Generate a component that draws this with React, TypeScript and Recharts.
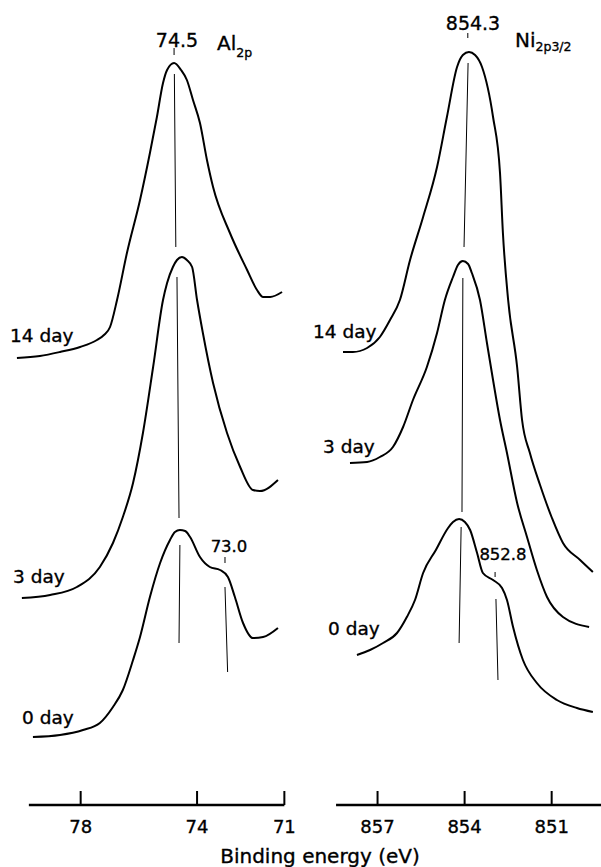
import { LineChart, Line, XAxis, YAxis, ReferenceLine } from 'recharts';

type Pt = [number, number];

// [binding energy (eV), intensity (a.u., spectra stacked with offsets)]
const al14: Pt[] = [
  [80.19, 89.4], [79.4, 89.8], [78.71, 90.6], [78.02, 91.6], [77.44, 93.0], [77.2, 94.0], [76.99, 95.6],
  [76.75, 101.0], [76.41, 110.4], [75.96, 121.0], [75.62, 130.4], [75.38, 137.6], [75.17, 144.4],
  [75.03, 147.0], [74.79, 148.4], [74.55, 147.0], [74.35, 145.0], [74.14, 141.0], [73.9, 136.4],
  [73.66, 129.0], [73.45, 123.6], [72.87, 114.4], [72.28, 107.0], [71.94, 103.0], [71.73, 101.6],
  [71.49, 101.6], [71.08, 102.6],
];
const al3: Pt[] = [
  [80.02, 41.4], [79.05, 42.0], [78.13, 43.6], [77.34, 47.6], [76.89, 52.4], [76.55, 57.6],
  [76.2, 64.4], [75.86, 74.4], [75.51, 87.6], [75.17, 101.0], [75.03, 104.4], [74.83, 107.6],
  [74.69, 109.0], [74.52, 109.6], [74.35, 109.0], [74.17, 107.6], [74.0, 101.0], [73.8, 94.4],
  [73.45, 84.4], [72.97, 74.4], [72.52, 67.6], [72.08, 63.0], [71.84, 62.8], [71.22, 65.0],
];
const al0: Pt[] = [
  [79.64, 13.6], [78.71, 14.0], [77.92, 15.0], [77.34, 16.4], [76.89, 19.6], [76.55, 23.0],
  [76.2, 29.0], [75.96, 33.6], [75.62, 41.6], [75.27, 48.4], [74.93, 53.0], [74.76, 54.6],
  [74.59, 55.0], [74.41, 54.8], [74.24, 53.6], [73.9, 49.6], [73.56, 47.6], [73.21, 47.0],
  [72.94, 45.6], [72.7, 41.6], [72.42, 36.4], [72.08, 33.4], [71.73, 33.6], [71.22, 35.4],
];

const ni14: Pt[] = [
  [858.19, 90.6], [857.85, 90.6], [857.36, 91.4], [856.92, 93.6], [856.57, 97.0], [856.23, 101.0],
  [855.88, 109.0], [855.43, 117.6], [854.95, 127.6], [854.61, 137.6], [854.26, 147.6], [854.06, 150.0],
  [853.85, 150.6], [853.64, 150.0], [853.4, 147.6], [853.02, 137.6], [852.78, 126.4], [852.68, 114.4],
  [852.5, 101.0], [852.19, 87.6], [852.02, 77.0], [851.75, 70.4], [851.4, 64.0], [850.99, 57.4],
  [850.61, 52.4], [850.02, 49.0], [849.58, 46.6],
];
const ni3: Pt[] = [
  [857.95, 68.4], [857.36, 68.6], [856.92, 69.6], [856.47, 71.6], [856.12, 75.6], [855.78, 81.0],
  [855.3, 87.6], [854.95, 94.4], [854.68, 101.0], [854.4, 105.6], [854.23, 108.0], [854.06, 108.8],
  [853.88, 108.2], [853.75, 106.4], [853.47, 101.0], [853.23, 92.4], [853.02, 85.0], [852.78, 77.0],
  [852.54, 70.4], [852.19, 60.4], [851.85, 53.6], [851.51, 47.0], [851.16, 41.6], [850.61, 37.6],
  [849.71, 35.6],
];
const ni0: Pt[] = [
  [857.71, 30.0], [857.26, 31.0], [856.81, 32.4], [856.33, 34.4], [855.99, 37.6], [855.71, 41.0],
  [855.43, 46.4], [854.99, 51.0], [854.57, 55.4], [854.4, 56.6], [854.19, 57.2], [853.99, 56.6],
  [853.81, 55.0], [853.57, 50.4], [853.37, 46.4], [853.02, 45.0], [852.71, 43.4], [852.54, 41.0],
  [852.33, 35.6], [851.99, 29.0], [851.51, 24.4], [850.82, 21.0], [850.13, 19.4], [849.58, 18.6],
];

// peak marker segments (start, end)
const alMarks: [Pt, Pt][] = [
  [[74.79, 151.4], [74.79, 150.0]],
  [[74.78, 146.2], [74.73, 111.6]],
  [[74.69, 105.6], [74.62, 57.4]],
  [[74.59, 52.0], [74.62, 32.4]],
  [[73.04, 49.6], [73.04, 48.4]],
  [[73.04, 43.6], [72.95, 26.6]],
];
const niMarks: [Pt, Pt][] = [
  [[853.89, 154.4], [853.89, 153.4]],
  [[853.88, 148.4], [854.02, 111.6]],
  [[854.06, 105.4], [854.09, 58.6]],
  [[854.12, 55.6], [854.19, 32.4]],
  [[852.95, 46.6], [852.95, 45.6]],
  [[852.92, 41.2], [852.85, 25.0]],
];

const alTicks = [78, 74, 71];
const niTicks = [857, 854, 851];

const FONT = '"DejaVu Sans", Arial, sans-serif';
const H = 867;

const toData = (pts: Pt[]) => pts.map(([e, i]) => ({ e, i }));

const Tick = (props: any) => {
  const { x, y, payload } = props;
  return (
    <g>
      <line x1={x} x2={x} y1={y - 14} y2={y} stroke="#000" strokeWidth={2} />
      <text x={x} y={y + 28} textAnchor="middle" fontSize={18} fill="#000" stroke="#000" strokeWidth={0.35} fontFamily={FONT}>
        {payload.value}
      </text>
    </g>
  );
};

function Panel(props: {
  series: Pt[][];
  marks: [Pt, Pt][];
  ticks: number[];
  domain: [number, number];
  axisSpan: [number, number];
  width: number;
  margin: { left: number; right: number };
}) {
  const { series, marks, ticks, domain, axisSpan, width, margin } = props;
  return (
    <LineChart width={width} height={H} margin={{ top: 5, bottom: 0, left: margin.left, right: margin.right }}>
      <XAxis
        dataKey="e"
        type="number"
        domain={domain}
        reversed
        ticks={ticks}
        axisLine={false}
        tickLine={false}
        tickSize={0}
        tickMargin={0}
        height={62}
        tick={<Tick />}
        interval={0}
        allowDataOverflow
      />
      <YAxis type="number" domain={[0, 160]} hide allowDataOverflow />
      <ReferenceLine
        segment={[{ x: axisSpan[0], y: 0 }, { x: axisSpan[1], y: 0 }]}
        stroke="#000"
        strokeWidth={2.5}
        ifOverflow="visible"
      />
      {marks.map((m, k) => (
        <ReferenceLine
          key={k}
          segment={[{ x: m[0][0], y: m[0][1] }, { x: m[1][0], y: m[1][1] }]}
          stroke="#000"
          strokeWidth={1}
          ifOverflow="visible"
        />
      ))}
      {series.map((s, k) => (
        <Line
          key={k}
          data={toData(s)}
          dataKey="i"
          type="monotone"
          stroke="#000"
          strokeWidth={2}
          dot={false}
          activeDot={false}
          isAnimationActive={false}
        />
      ))}
    </LineChart>
  );
}

export default function App() {
  const txt = { fontFamily: FONT, fill: '#000', stroke: '#000', strokeWidth: 0.35 } as const;
  return (
    <div style={{ position: 'absolute', left: 0, top: 0, width: 601, height: H, background: '#fff' }}>
      <div style={{ position: 'absolute', left: 0, top: 0 }}>
        <Panel
          series={[al14, al3, al0]}
          marks={alMarks}
          ticks={alTicks}
          domain={[70.6, 80.6]}
          axisSpan={[79.78, 71]}
          width={300}
          margin={{ left: 5, right: 4 }}
        />
      </div>
      <div style={{ position: 'absolute', left: 300, top: 0 }}>
        <Panel
          series={[ni14, ni3, ni0]}
          marks={niMarks}
          ticks={niTicks}
          domain={[849.3, 859.5]}
          axisSpan={[858.43, 849.3]}
          width={301}
          margin={{ left: 5, right: 0 }}
        />
      </div>
      <svg width={601} height={H} style={{ position: 'absolute', left: 0, top: 0, pointerEvents: 'none' }}>
        <text {...txt} x={177} y={47} fontSize={19} textAnchor="middle">74.5</text>
        <text {...txt} x={217} y={50} fontSize={20}>
          Al<tspan fontSize={12.5} dy={7}>2p</tspan>
        </text>
        <text {...txt} x={229} y={552} fontSize={16.5} textAnchor="middle">73.0</text>
        <text {...txt} x={473} y={30} fontSize={19} textAnchor="middle">854.3</text>
        <text {...txt} x={515} y={47} fontSize={20}>
          Ni<tspan fontSize={12.5} dy={4}>2p3/2</tspan>
        </text>
        <text {...txt} x={503} y={560} fontSize={16.5} textAnchor="middle">852.8</text>

        <text {...txt} x={10} y={342} fontSize={18.5}>14 day</text>
        <text {...txt} x={13} y={583} fontSize={18.5}>3 day</text>
        <text {...txt} x={22} y={724} fontSize={18.5}>0 day</text>
        <text {...txt} x={313} y={338} fontSize={18.5}>14 day</text>
        <text {...txt} x={323} y={453} fontSize={18.5}>3 day</text>
        <text {...txt} x={328} y={635} fontSize={18.5}>0 day</text>

        <text {...txt} x={320} y={863} fontSize={20} textAnchor="middle">Binding energy (eV)</text>
      </svg>
    </div>
  );
}
